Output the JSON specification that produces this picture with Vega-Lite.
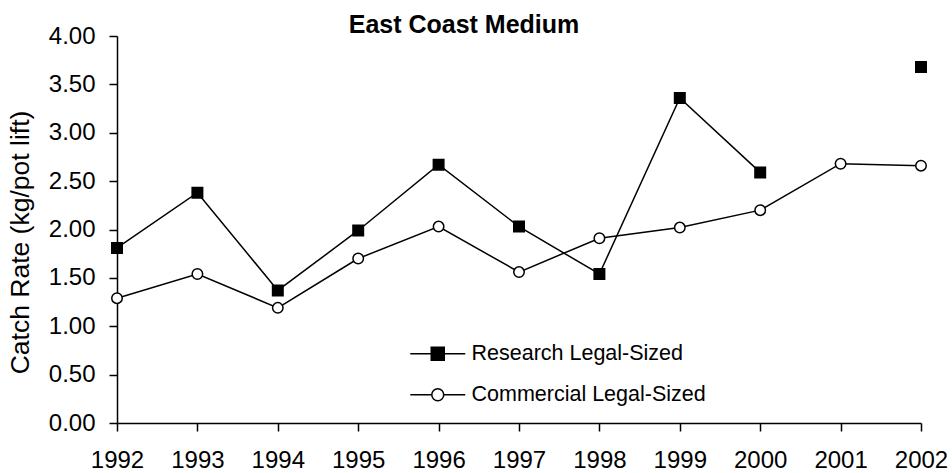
{
  "$schema": "https://vega.github.io/schema/vega-lite/v6.json",
  "width": 804,
  "height": 387,
  "autosize": "none",
  "padding": {"left": 117, "top": 36, "right": 31, "bottom": 50},
  "background": "white",
  "config": {
    "font": "Liberation Sans",
    "view": {"stroke": null},
    "axis": {
      "grid": false,
      "domainColor": "black",
      "domainWidth": 1.5,
      "tickColor": "black",
      "tickWidth": 1.5,
      "tickSize": 8,
      "labelColor": "black",
      "labelFont": "Liberation Sans",
      "labelFontSize": 24,
      "titleFont": "Liberation Sans",
      "titleColor": "black",
      "titleFontWeight": "normal"
    }
  },
  "title": {
    "text": "East Coast Medium",
    "font": "Liberation Sans",
    "fontSize": 25,
    "fontWeight": "bold",
    "color": "black",
    "anchor": "middle",
    "frame": "group",
    "baseline": "alphabetic",
    "offset": -34,
    "dx": -55
  },
  "data": {
    "values": [
      {"year": 1992, "series": "Research Legal-Sized", "rate": 1.81},
      {"year": 1993, "series": "Research Legal-Sized", "rate": 2.38},
      {"year": 1994, "series": "Research Legal-Sized", "rate": 1.37},
      {"year": 1995, "series": "Research Legal-Sized", "rate": 1.99},
      {"year": 1996, "series": "Research Legal-Sized", "rate": 2.67},
      {"year": 1997, "series": "Research Legal-Sized", "rate": 2.03},
      {"year": 1998, "series": "Research Legal-Sized", "rate": 1.54},
      {"year": 1999, "series": "Research Legal-Sized", "rate": 3.36},
      {"year": 2000, "series": "Research Legal-Sized", "rate": 2.59},
      {"year": 2001, "series": "Research Legal-Sized", "rate": null},
      {"year": 2002, "series": "Research Legal-Sized", "rate": 3.68},
      {"year": 1992, "series": "Commercial Legal-Sized", "rate": 1.29},
      {"year": 1993, "series": "Commercial Legal-Sized", "rate": 1.54},
      {"year": 1994, "series": "Commercial Legal-Sized", "rate": 1.19},
      {"year": 1995, "series": "Commercial Legal-Sized", "rate": 1.70},
      {"year": 1996, "series": "Commercial Legal-Sized", "rate": 2.03},
      {"year": 1997, "series": "Commercial Legal-Sized", "rate": 1.56},
      {"year": 1998, "series": "Commercial Legal-Sized", "rate": 1.91},
      {"year": 1999, "series": "Commercial Legal-Sized", "rate": 2.02},
      {"year": 2000, "series": "Commercial Legal-Sized", "rate": 2.20},
      {"year": 2001, "series": "Commercial Legal-Sized", "rate": 2.68},
      {"year": 2002, "series": "Commercial Legal-Sized", "rate": 2.66}
    ]
  },
  "encoding": {
    "x": {
      "field": "year",
      "type": "quantitative",
      "scale": {"domain": [1992, 2002], "nice": false, "zero": false},
      "axis": {
        "title": null,
        "values": [1992, 1993, 1994, 1995, 1996, 1997, 1998, 1999, 2000, 2001, 2002],
        "format": "d",
        "labelPadding": 17,
        "labelFlush": false,
        "labelOverlap": false
      }
    },
    "y": {
      "field": "rate",
      "type": "quantitative",
      "scale": {"domain": [0, 4], "nice": false},
      "axis": {
        "title": "Catch Rate (kg/pot lift)",
        "titleFontSize": 26.5,
        "titleX": -97,
        "titleY": 206,
        "titleBaseline": "middle",
        "titleAngle": -90,
        "values": [0, 0.5, 1, 1.5, 2, 2.5, 3, 3.5, 4],
        "format": ".2f",
        "labelPadding": 14
      }
    }
  },
  "layer": [
    {
      "mark": {"type": "line", "color": "black", "strokeWidth": 1.5, "invalid": "break-paths-filter-domains"},
      "encoding": {
        "detail": {"field": "series", "type": "nominal"}
      }
    },
    {
      "transform": [{"filter": "datum.series === 'Research Legal-Sized' && datum.rate != null"}],
      "mark": {"type": "point", "shape": "square", "filled": true, "fill": "black", "stroke": "black", "strokeWidth": 1.5, "size": 110, "opacity": 1}
    },
    {
      "transform": [{"filter": "datum.series === 'Commercial Legal-Sized' && datum.rate != null"}],
      "mark": {"type": "point", "shape": "circle", "filled": true, "fill": "white", "stroke": "black", "strokeWidth": 1.5, "size": 110, "opacity": 1}
    },
    {
      "transform": [{"filter": "datum.rate != null"}],
      "mark": {"type": "point", "filled": true, "strokeWidth": 1.5, "opacity": 0, "size": 169},
      "encoding": {
        "fill": {
          "field": "series",
          "type": "nominal",
          "scale": {"domain": ["Research Legal-Sized", "Commercial Legal-Sized"], "range": ["black", "white"]},
          "legend": null
        },
        "stroke": {
          "field": "series",
          "type": "nominal",
          "scale": {"domain": ["Research Legal-Sized", "Commercial Legal-Sized"], "range": ["black", "black"]},
          "legend": null
        },
        "shape": {
          "field": "series",
          "type": "nominal",
          "scale": {
            "domain": ["Research Legal-Sized", "Commercial Legal-Sized"],
            "range": [
              "M-4.23,0H-1M1,0H4.23M-1,-1H1V1H-1Z",
              "M-4.23,0H-0.92M0.92,0H4.23M-0.92,0A0.92,0.92 0 1,0 0.92,0A0.92,0.92 0 1,0 -0.92,0Z"
            ]
          },
          "legend": {
            "title": null,
            "orient": "none",
            "legendX": 310,
            "legendY": 307,
            "padding": 0,
            "rowPadding": 18,
            "labelFont": "Liberation Sans",
            "labelFontSize": 21.5,
            "labelColor": "black",
            "labelOffset": 23,
            "labelLimit": 0,
            "symbolSize": 169,
            "symbolOpacity": 1,
            "symbolStrokeWidth": 1.5
          }
        }
      }
    }
  ]
}
